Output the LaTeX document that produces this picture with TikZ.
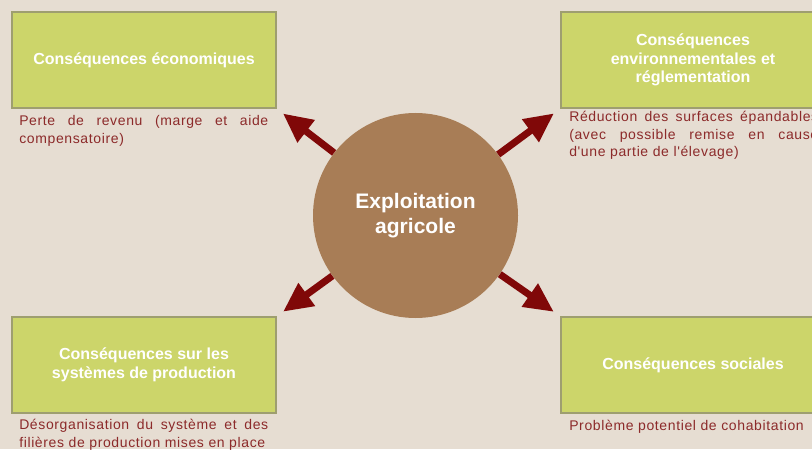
\documentclass[tikz,border=0pt]{standalone}
\usepackage{fontspec}
\setmainfont{Liberation Sans}
\newfontfamily\descfont[LetterSpace=4.5]{Liberation Sans}
\usetikzlibrary{arrows.meta}
\usetikzlibrary{positioning}

\definecolor{bgbeige}{RGB}{230,221,210}
\definecolor{boxgreen}{RGB}{204,213,106}
\definecolor{boxedge}{RGB}{158,158,112}
\definecolor{farmbrown}{RGB}{168,125,86}
\definecolor{arrowred}{RGB}{128,8,8}
\definecolor{desctext}{RGB}{140,42,42}

\tikzset{
  conbox/.style={draw=boxedge, line width=0.9pt, fill=boxgreen, minimum width=198pt, minimum height=72pt, inner sep=0pt, text=white, font=\bfseries\fontsize{12}{14}\selectfont, align=center},
  desc/.style={anchor=north west, text width=186.75pt, inner sep=0pt, align=justify, text=desctext, font=\descfont\fontsize{10.5}{13.25}\selectfont},
  outarrow/.style={draw=arrowred, line width=5.25pt, -{Triangle[length=22pt,width=20pt]}, shorten >=6pt}
}

\begin{document}
\begin{tikzpicture}[x=0.75pt,y=0.75pt,yscale=-1,xscale=1]
\useasboundingbox (0,0) rectangle (812,449);
\clip (0,0) rectangle (812,449);
\fill[bgbeige] (0,0) rectangle (812,449);

%Shape: Circle [id:expl]
\node[circle, fill=farmbrown, minimum size=153.75pt, inner sep=0pt, text=white, font=\bfseries\fontsize{15.75}{18.75}\selectfont, align=center] (expl) at (415.5,215.5) {Exploitation\\agricole};

%Shape: Rectangle [id:eco]
\node[conbox] (eco) at (144,60) {Conséquences économiques};
%Shape: Rectangle [id:env]
\node[conbox] (env) at (693,60) {Conséquences\\environnementales et\\réglementation};
%Shape: Rectangle [id:prod]
\node[conbox] (prod) at (144,365) {Conséquences sur les\\systèmes de production};
%Shape: Rectangle [id:soc]
\node[conbox] (soc) at (693,365) {Conséquences sociales};

%Straight Lines [id:arrows]
\draw[outarrow] (expl) -- (eco.south east);
\draw[outarrow] (expl) -- (env.south west);
\draw[outarrow] (expl) -- (prod.north east);
\draw[outarrow] (expl) -- (soc.north west);

% Text Node
\node[desc] (ecotxt) at (19,115) {Perte de revenu (marge et aide\linebreak compensatoire)};
% Text Node
\node[desc] (envtxt) at (569,111) {Réduction des surfaces épandables\linebreak (avec possible remise en cause\linebreak d'une partie de l'élevage)};
% Text Node
\node[desc] (prodtxt) at (19,419) {Désorganisation du système et des\linebreak filières de production mises en place};
% Text Node
\node[desc] (soctxt) at (569,420) {Problème potentiel de cohabitation};

\end{tikzpicture}
\end{document}
